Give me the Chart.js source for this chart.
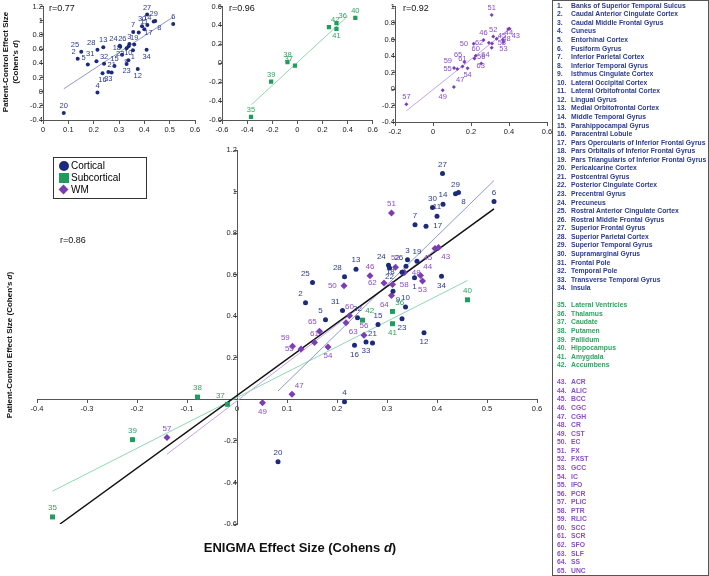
<!DOCTYPE html>
<html>
<head>
<meta charset="utf-8">
<script src="https://cdn.jsdelivr.net/npm/chart.js@4"></script>
<style>
  body { margin: 0; background: #fff; }
  #page { position: relative; width: 709px; height: 576px; overflow: hidden; font-family: "Liberation Sans", Arial, sans-serif; }
  canvas { position: absolute; }
  .txt { position: absolute; white-space: nowrap; color: #111; }
  .rot { transform: translate(-50%, -50%) rotate(-90deg); font-weight: bold; font-size: 8px; }
  #list { position: absolute; left: 552px; top: 0; width: 155px; height: 574px; border: 1px solid #555; }
  #list .row { position: absolute; height: 9px; line-height: 9px; font-size: 6.8px; font-weight: bold; white-space: nowrap; }
  #legend { position: absolute; left: 53px; top: 157px; width: 92px; height: 40px; border: 1px solid #333; font-size: 10px; }
  #legend .it { position: absolute; left: 17px; line-height: 12px; }
  #legend .mk { position: absolute; }
</style>
</head>
<body>
<div id="page">
  <canvas id="main" width="557" height="576" style="left:0;top:0"></canvas>
  <canvas id="ins1" width="205" height="140" style="left:0;top:0"></canvas>
  <canvas id="ins2" width="175" height="140" style="left:205px;top:0"></canvas>
  <canvas id="ins3" width="177" height="142" style="left:380px;top:0"></canvas>

  <div class="txt rot" style="left:5px;top:62px">Patient-Control Effect Size</div>
  <div class="txt rot" style="left:15px;top:62px">(Cohen's <i>d</i>)</div>
  <div class="txt rot" style="left:9px;top:345px">Patient-Control Effect Size (Cohen's <i>d</i>)</div>
  <div class="txt" style="left:300px;top:547px;transform:translate(-50%,-50%);font-weight:bold;font-size:13px">ENIGMA Effect Size (Cohens <i>d</i>)</div>

  <div class="txt" style="left:49px;top:3px;font-size:9px">r=0.77</div>
  <div class="txt" style="left:229px;top:3px;font-size:9px">r=0.96</div>
  <div class="txt" style="left:403px;top:3px;font-size:9px">r=0.92</div>
  <div class="txt" style="left:60px;top:235px;font-size:9px">r=0.86</div>

  <div id="legend">
    <div class="mk" style="left:5px;top:3px;width:10px;height:10px;border-radius:50%;background:#1b2a7a"></div>
    <div class="it" style="top:2px">Cortical</div>
    <div class="mk" style="left:5px;top:15px;width:10px;height:10px;background:#1f9d5c"></div>
    <div class="it" style="top:14px">Subcortical</div>
    <div class="mk" style="left:6px;top:28px;width:7px;height:7px;background:#7b3db5;transform:rotate(45deg)"></div>
    <div class="it" style="top:26px">WM</div>
  </div>

  <div id="list"></div>
</div>

<script>
// region names (numbered 1..65 across the three groups)
const cortNames = ['Banks of Superior Temporal Sulcus', 'Caudal Anterior Cingulate Cortex', 'Caudal Middle Frontal Gyrus', 'Cuneus', 'Entorhinal Cortex', 'Fusiform Gyrus', 'Inferior Parietal Cortex', 'Inferior Temporal Gyrus', 'Isthmus Cingulate Cortex', 'Lateral Occipital Cortex', 'Lateral Orbitofrontal Cortex', 'Lingual Gyrus', 'Medial Orbitofrontal Cortex', 'Middle Temporal Gyrus', 'Parahippocampal Gyrus', 'Paracentral Lobule', 'Pars Opercularis of Inferior Frontal Gyrus', 'Pars Orbitalis of Inferior Frontal Gyrus', 'Pars Triangularis of Inferior Frontal Gyrus', 'Pericalcarine Cortex', 'Postcentral Gyrus', 'Posterior Cingulate Cortex', 'Precentral Gyrus', 'Precuneus', 'Rostral Anterior Cingulate Cortex', 'Rostral Middle Frontal Gyrus', 'Superior Frontal Gyrus', 'Superior Parietal Cortex', 'Superior Temporal Gyrus', 'Supramarginal Gyrus', 'Frontal Pole', 'Temporal Pole', 'Transverse Temporal Gyrus', 'Insula'];
const subNames = ['Lateral Ventricles', 'Thalamus', 'Caudate', 'Putamen', 'Pallidum', 'Hippocampus', 'Amygdala', 'Accumbens'];
const wmNames = ['ACR', 'ALIC', 'BCC', 'CGC', 'CGH', 'CR', 'CST', 'EC', 'FX', 'FXST', 'GCC', 'IC', 'IFO', 'PCR', 'PLIC', 'PTR', 'RLIC', 'SCC', 'SCR', 'SFO', 'SLF', 'SS', 'UNC'];

// ENIGMA effect size (x) vs patient-control effect size (y)
const cortX = [0.355, 0.137, 0.341, 0.215, 0.177, 0.514, 0.356, 0.443, 0.312, 0.337, 0.400, 0.374, 0.238, 0.412, 0.282, 0.235, 0.378, 0.330, 0.360, 0.082, 0.271, 0.305, 0.330, 0.303, 0.151, 0.338, 0.411, 0.215, 0.437, 0.391, 0.211, 0.241, 0.258, 0.409];
const cortY = [0.585, 0.465, 0.672, -0.012, 0.383, 0.952, 0.840, 0.995, 0.520, 0.444, 0.881, 0.320, 0.626, 0.939, 0.360, 0.260, 0.833, 0.612, 0.665, -0.300, 0.271, 0.632, 0.388, 0.645, 0.562, 0.640, 1.087, 0.590, 0.990, 0.923, 0.428, 0.393, 0.276, 0.592];
const subX = [-0.369, 0.311, -0.019, -0.079, -0.209, 0.461, 0.311, 0.251];
const subY = [-0.566, 0.423, -0.024, 0.011, -0.194, 0.479, 0.364, 0.381];
const wmX = [0.403, 0.367, 0.396, 0.266, 0.110, 0.335, 0.051, 0.214, 0.309, 0.317, 0.371, 0.182, 0.128, 0.254, -0.140, 0.311, 0.111, 0.225, 0.155, 0.294, 0.218, 0.309, 0.165];
const wmY = [0.731, 0.596, 0.726, 0.595, 0.024, 0.610, -0.016, 0.547, 0.897, 0.636, 0.569, 0.252, 0.242, 0.309, -0.184, 0.553, 0.255, 0.402, 0.274, 0.560, 0.369, 0.500, 0.328];

// fit line end points
const cortFitX = [0.082, 0.514], cortFitY = [0.040, 1.053];
const subFitX = [-0.369, 0.461], subFitY = [-0.442, 0.572];
const subInsetFitX = [-0.365, 0.400], subInsetFitY = [-0.437, 0.498];
const wmFitX = [-0.140, 0.403], wmFitY = [-0.264, 0.732];
const allFitX = [-0.354, 0.514], allFitY = [-0.600, 0.917];

const cortNums = cortNames.map((_, i) => i + 1);
const subNums = subNames.map((_, i) => i + 35);
const wmNums = wmNames.map((_, i) => i + 43);

// where each number label sits around its mark
const labelPos = {
  1: 's', 2: 'nw', 5: 'nw', 8: 'se', 9: 'se', 12: 's', 16: 's', 17: 'e', 18: 'w', 22: 's', 23: 's',
  24: 'nw', 25: 'nw', 26: 'nw', 28: 'nw', 31: 'nw', 33: 's', 34: 's',
  36: 'ne', 37: 'nw', 41: 's', 42: 'ne',
  43: 'se', 44: 'ne', 45: 'sw', 47: 'ne', 48: 'e', 49: 's', 50: 'w', 53: 's', 54: 's', 55: 'w',
  58: 'e', 59: 'nw', 62: 'w', 63: 'se', 64: 'sw', 65: 'nw'
};
const offsets = {
  n: [0, -1, 'center'], s: [0, 1, 'center'], e: [0.8, 0, 'left'], w: [-0.8, 0, 'right'],
  nw: [-0.3, -1, 'right'], ne: [0.3, -1, 'left'], sw: [-0.3, 1, 'right'], se: [0.3, 1, 'left']
};

const FONT = '"Liberation Sans", Arial, sans-serif';
Chart.defaults.font.family = FONT;

const COL = {
  cort: '#1b2a7a', cortText: '#2b3b8c',
  sub: '#1f9d5c', subText: '#2aa562',
  wm: '#7b3db5', wmText: '#8a4fc6',
  cortLine: '#8e98cf', subLine: '#8ed8b2', wmLine: '#c3a3e8'
};

const pointLabels = {
  id: 'pointLabels',
  afterDatasetsDraw(chart, args, opts) {
    const ctx = chart.ctx;
    chart.data.datasets.forEach((ds, di) => {
      if (!ds.numbers) return;
      const meta = chart.getDatasetMeta(di);
      ctx.save();
      ctx.font = opts.size + 'px ' + FONT;
      ctx.fillStyle = ds.labelColor;
      ctx.textBaseline = 'middle';
      meta.data.forEach((pt, i) => {
        const n = ds.numbers[i];
        const o = offsets[labelPos[n] || 'n'];
        ctx.textAlign = o[2];
        ctx.fillText(String(n), pt.x + o[0] * opts.gap, pt.y + o[1] * opts.gap);
      });
      ctx.restore();
    });
  }
};

function pts(xs, ys) {
  return xs.map((x, i) => ({ x: x, y: ys[i] }));
}

function markSet(xs, ys, nums, color, labelColor, style, r) {
  return {
    data: pts(xs, ys), numbers: nums, labelColor: labelColor,
    pointStyle: style, pointRadius: r, pointHoverRadius: r,
    backgroundColor: color, borderColor: color, borderWidth: 0, showLine: false
  };
}

function lineSet(xs, ys, color, width) {
  return {
    data: pts(xs, ys), showLine: true, pointRadius: 0, pointHoverRadius: 0,
    borderColor: color, borderWidth: width, backgroundColor: color, fill: false
  };
}

function fmt(hideZero) {
  return v => (hideZero && Math.abs(v) < 1e-9) ? '' : String(+v.toFixed(1));
}

function axis(min, max, step, at, size, hideZero) {
  return {
    type: 'linear', min: min, max: max, position: at,
    ticks: { stepSize: step, autoSkip: false, color: '#222', padding: 2, font: { size: size }, callback: fmt(hideZero) },
    grid: { drawOnChartArea: false, drawTicks: true, tickLength: 3, color: '#555' },
    border: { color: '#555', width: 1 }
  };
}

function makeChart(id, datasets, xAxis, yAxis, padding, labelSize, gap) {
  return new Chart(document.getElementById(id), {
    type: 'scatter',
    data: { datasets: datasets },
    options: {
      responsive: false, animation: false,
      layout: { padding: padding },
      scales: { x: xAxis, y: yAxis },
      plugins: { legend: { display: false }, tooltip: { enabled: false }, pointLabels: { size: labelSize, gap: gap } }
    },
    plugins: [pointLabels]
  });
}

// main combined plot, axes crossing at zero
makeChart('main', [
  markSet(cortX, cortY, cortNums, COL.cort, COL.cortText, 'circle', 2.5),
  markSet(subX, subY, subNums, COL.sub, COL.subText, 'rect', 3.5),
  markSet(wmX, wmY, wmNums, COL.wm, COL.wmText, 'rectRot', 3.5),
  lineSet(allFitX, allFitY, '#111', 1.5),
  lineSet(cortFitX, cortFitY, COL.cortLine, 1),
  lineSet(subFitX, subFitY, COL.subLine, 1),
  lineSet(wmFitX, wmFitY, COL.wmLine, 1)
], axis(-0.4, 0.6, 0.1, { y: 0 }, 7.5, false),
   axis(-0.6, 1.2, 0.2, { x: 0 }, 7.5, true),
   { left: 37, right: 20, top: 150, bottom: 52 }, 8, 9);

// cortical inset
makeChart('ins1', [
  markSet(cortX, cortY, cortNums, COL.cort, COL.cortText, 'circle', 2),
  lineSet(cortFitX, cortFitY, COL.cortLine, 1)
], axis(0, 0.6, 0.1, { y: -0.4 }, 7.5, false),
   axis(-0.4, 1.2, 0.2, { x: 0 }, 7.5, false),
   { left: 43, right: 10, top: 5, bottom: 20 }, 7.5, 7);

// subcortical inset
makeChart('ins2', [
  markSet(subX, subY, subNums, COL.sub, COL.subText, 'rect', 3),
  lineSet(subInsetFitX, subInsetFitY, COL.subLine, 1)
], axis(-0.6, 0.6, 0.2, { y: -0.6 }, 7.5, false),
   axis(-0.6, 0.6, 0.2, { x: -0.6 }, 7.5, false),
   { left: 17, right: 3, top: 4, bottom: 20 }, 7.5, 7);

// white matter inset
makeChart('ins3', [
  markSet(wmX, wmY, wmNums, COL.wm, COL.wmText, 'rectRot', 2),
  lineSet(wmFitX, wmFitY, COL.wmLine, 1)
], axis(-0.2, 0.6, 0.2, { y: -0.4 }, 7.5, false),
   axis(-0.4, 1.0, 0.2, { x: -0.2 }, 7.5, false),
   { left: 15, right: 10, top: 6, bottom: 20 }, 7.5, 7);

// numbered key on the right
const list = document.getElementById('list');
const groups = [[cortNames, 1, COL.cortText], [subNames, 35, COL.subText], [wmNames, 43, COL.wmText]];
let line = 0;
groups.forEach(([names, start, color], gi) => {
  if (gi > 0) line++;
  names.forEach((name, i) => {
    const top = line * 8.56 - 0.3;
    const num = document.createElement('div');
    num.className = 'row';
    num.style.cssText = `left:4px;top:${top}px;color:${color}`;
    num.textContent = (start + i) + '.';
    const txt = document.createElement('div');
    txt.className = 'row';
    txt.style.cssText = `left:18px;top:${top}px;color:${color}`;
    txt.textContent = name;
    list.appendChild(num);
    list.appendChild(txt);
    line++;
  });
});
</script>
</body>
</html>
